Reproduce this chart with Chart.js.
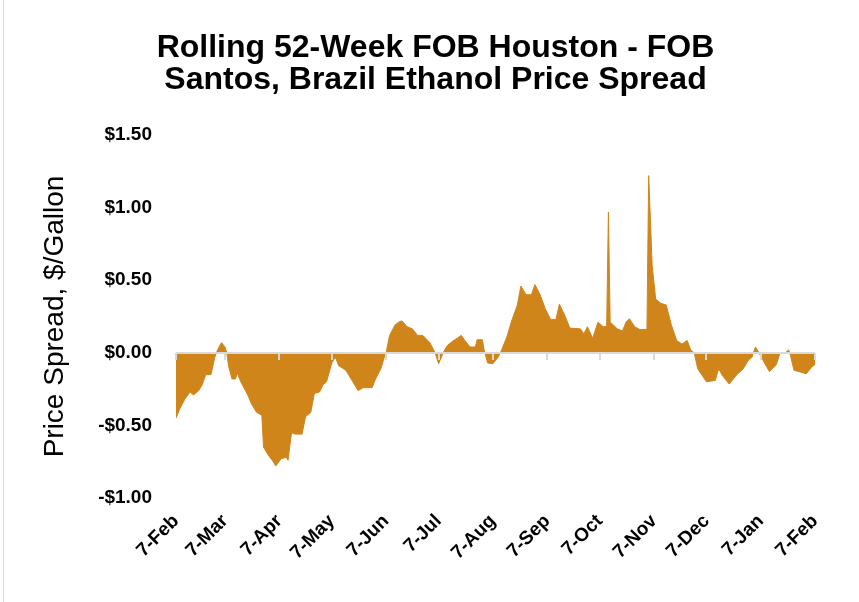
<!DOCTYPE html>
<html>
<head>
<meta charset="utf-8">
<script src="https://cdn.jsdelivr.net/npm/chart.js@4.4.1/dist/chart.umd.min.js"></script>
<style>
    html, body { margin: 0; padding: 0; background: #fff; }
    #wrap { position: relative; width: 859px; height: 602px; }
    #wrap::before { content: ''; position: absolute; left: 3px; top: 0; bottom: 0; border-left: 1px solid #d9d9d9; }
</style>
</head>
<body>
<div id="wrap"><canvas id="spreadChart" width="859" height="602"></canvas></div>
<script>
// Days since 7-Feb and the spread in $/gallon
const days = [
    0, 2, 5, 8, 10, 13, 15, 17, 20, 22, 23, 25, 26, 28, 29, 30, 32, 34, 35, 37,
    41, 43, 46, 49, 50, 53, 55, 57, 60, 63, 64, 66, 68, 72, 74, 77, 79, 82, 84, 86,
    89, 91, 93, 97, 101, 104, 107, 112, 114, 117, 119, 120, 122, 125, 127, 129, 132, 135, 138, 141,
    145, 148, 150, 152, 153, 155, 158, 163, 165, 168, 171, 172, 175, 176, 178, 181, 184, 186, 189, 192,
    195, 197, 200, 203, 205, 208, 211, 214, 217, 219, 222, 225, 231, 233, 235, 238, 241, 244, 246, 247,
    248, 250, 252, 255, 257, 259, 262, 265, 269, 270, 272, 274, 277, 280, 283, 286, 289, 292, 294, 296,
    298, 303, 308, 310, 312, 316, 320, 324, 327, 329, 331, 333, 335, 339, 343, 345, 348, 350, 351, 353,
    356, 360, 363, 365
];
const spread = [
    -0.45, -0.39, -0.32, -0.27, -0.29, -0.26, -0.22, -0.15, -0.15, -0.04, 0.00, 0.05, 0.07, 0.04, 0.00, -0.09, -0.18, -0.18, -0.14, -0.20,
    -0.29, -0.35, -0.41, -0.43, -0.65, -0.71, -0.74, -0.78, -0.73, -0.72, -0.74, -0.55, -0.56, -0.56, -0.44, -0.41, -0.28, -0.27, -0.22, -0.20,
    -0.07, -0.03, -0.09, -0.12, -0.20, -0.26, -0.24, -0.24, -0.18, -0.11, -0.03, 0.00, 0.12, 0.19, 0.21, 0.22, 0.18, 0.165, 0.12, 0.12,
    0.07, 0.00, -0.075, -0.02, 0.01, 0.05, 0.08, 0.12, 0.085, 0.04, 0.04, 0.09, 0.09, 0.02, -0.07, -0.075, -0.03, 0.02, 0.11, 0.23,
    0.33, 0.46, 0.40, 0.40, 0.47, 0.40, 0.30, 0.23, 0.23, 0.335, 0.26, 0.17, 0.165, 0.13, 0.18, 0.10, 0.21, 0.18, 0.18, 0.97,
    0.21, 0.19, 0.165, 0.15, 0.21, 0.235, 0.18, 0.16, 0.16, 1.22, 0.60, 0.37, 0.34, 0.33, 0.19, 0.085, 0.06, 0.085, 0.02, 0.00,
    -0.11, -0.20, -0.19, -0.11, -0.155, -0.215, -0.155, -0.11, -0.05, -0.03, 0.04, 0.00, -0.045, -0.13, -0.08, 0.00, 0.00, 0.02, -0.02, -0.12,
    -0.13, -0.145, -0.10, -0.08
];

// Month ticks (days since 7-Feb)
const tickDays = [0, 28, 59, 89, 120, 150, 181, 212, 242, 273, 303, 334, 365];
const tickLabels = ['7-Feb', '7-Mar', '7-Apr', '7-May', '7-Jun', '7-Jul', '7-Aug', '7-Sep', '7-Oct', '7-Nov', '7-Dec', '7-Jan', '7-Feb'];

const SANS = "'Liberation Sans', Arial, sans-serif";

/**
 * Zero line with small month ticks, drawn over the area like the original
 */
const zeroAxis = {
    id: 'zeroAxis',
    afterDatasetsDraw(chart) {
        const { ctx, chartArea, scales: { x, y } } = chart;
        const y0 = Math.round(y.getPixelForValue(0));
        ctx.save();
        ctx.strokeStyle = '#d9d9d9';
        ctx.lineWidth = 2;
        ctx.beginPath();
        ctx.moveTo(chartArea.left, y0);
        ctx.lineTo(chartArea.right, y0);
        x.ticks.forEach(t => {
            const px = Math.round(x.getPixelForValue(t.value));
            ctx.moveTo(px, y0);
            ctx.lineTo(px, y0 + 7);
        });
        ctx.stroke();
        ctx.restore();
    }
};

const ctx = document.getElementById('spreadChart').getContext('2d');
new Chart(ctx, {
    type: 'line',
    data: {
        datasets: [{
            data: days.map((d, i) => ({ x: d, y: spread[i] })),
            fill: 'origin',
            backgroundColor: '#D0851B',
            borderColor: '#D0851B',
            borderWidth: 1,
            pointRadius: 0,
            tension: 0
        }]
    },
    options: {
        responsive: false,
        animation: false,
        layout: { padding: { left: 56, right: 44, top: 0, bottom: 0 } },
        plugins: {
            legend: { display: false },
            tooltip: { enabled: false },
            title: {
                display: true,
                text: ['Rolling 52-Week FOB Houston - FOB', 'Santos, Brazil Ethanol Price Spread'],
                color: '#000',
                font: { family: SANS, size: 32, weight: 'bold', lineHeight: 1.0 },
                padding: { top: 32, bottom: 39 }
            }
        },
        scales: {
            x: {
                type: 'linear',
                min: 0,
                max: 365,
                afterBuildTicks: scale => {
                    scale.ticks = tickDays.map(v => ({ value: v }));
                },
                afterFit: scale => { scale.height = 104; },
                grid: { display: false },
                border: { display: false },
                ticks: {
                    autoSkip: false,
                    minRotation: 45,
                    maxRotation: 45,
                    padding: 4,
                    color: '#000',
                    font: { family: SANS, size: 19, weight: 'bold' },
                    callback: v => tickLabels[tickDays.indexOf(v)]
                }
            },
            y: {
                min: -1,
                max: 1.5,
                afterFit: scale => { scale.width = 120; },
                grid: { display: false },
                border: { display: false },
                ticks: {
                    stepSize: 0.5,
                    padding: 16,
                    color: '#000',
                    font: { family: SANS, size: 19, weight: 'bold' },
                    callback: v => (v < 0 ? '-$' : '$') + Math.abs(v).toFixed(2)
                },
                title: {
                    display: true,
                    text: 'Price Spread, $/Gallon',
                    color: '#000',
                    font: { family: SANS, size: 28 },
                    padding: { top: -18, bottom: 0 }
                }
            }
        }
    },
    plugins: [zeroAxis]
});
</script>
</body>
</html>
